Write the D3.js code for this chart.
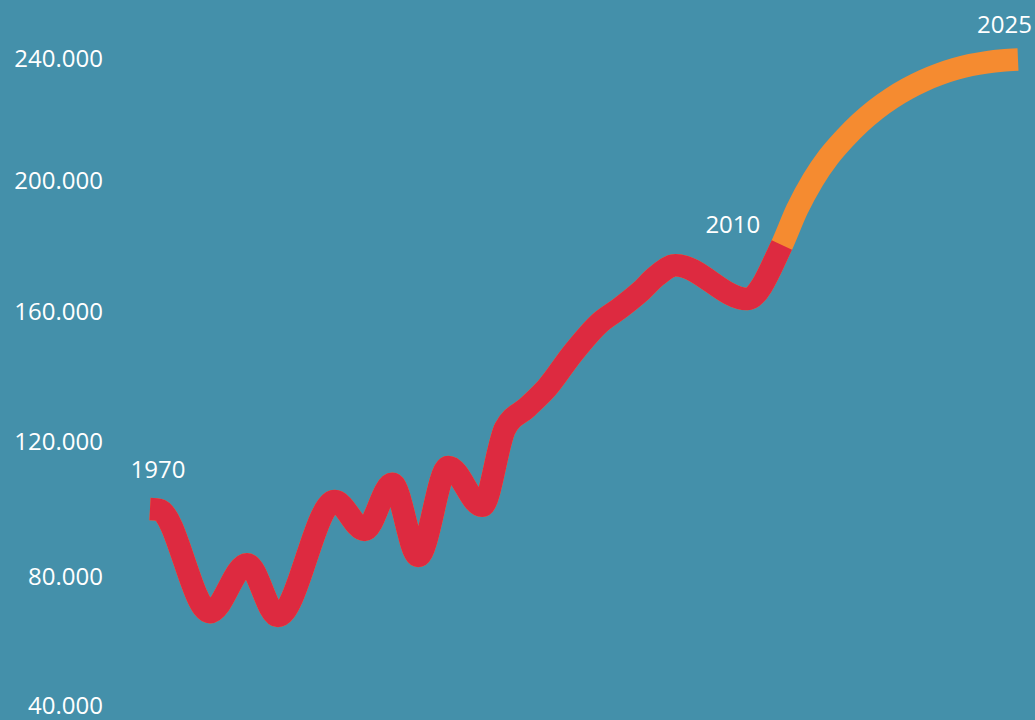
<!DOCTYPE html>
<html>
<head>
<meta charset="utf-8">
<script src="https://cdn.jsdelivr.net/npm/d3@7"></script>
<style>
  html, body { margin: 0; padding: 0; background: #4490AA; }
  svg { display: block; }
  text { font-family: "Open Sans", sans-serif; fill: #ffffff; }
</style>
</head>
<body>
<svg id="chart" width="1035" height="720"></svg>
<script>
// ---- data ----
// historic series (red), read at the turning points of the curve
const historicYears  = [1970, 1970.6, 1973.8, 1976.15, 1978.1, 1981.7, 1983.6, 1985.35, 1987.0, 1988.9, 1991.05, 1992.5, 1993.9, 1995.15, 1996.8, 1998.5, 1999.8, 2001.05, 2002.1, 2003.3, 2007.85, 2010];
const historicValues = [100100, 99800, 69100, 83800, 67900, 102400, 93900, 107500, 86200, 112500, 101000, 124000, 130500, 136500, 147200, 156500, 161100, 166000, 170900, 174200, 163800, 180000];
// forecast series (orange)
const forecastYears  = [2010, 2011, 2012, 2013, 2014, 2015, 2016, 2017, 2018, 2019, 2020, 2021, 2022, 2023, 2024, 2025];
const forecastValues = [180000, 191300, 200300, 207900, 213900, 219100, 223500, 227200, 230300, 232900, 235000, 236700, 238000, 238900, 239500, 239800];
const tickValues = [40000, 80000, 120000, 160000, 200000, 240000];
const yearLabels = [1970, 2010, 2025];

// ---- layout ----
const svg = d3.select("#chart");
const x = d3.scaleLinear().domain([1970, 2025]).range([150, 1018]);
const y = d3.scaleLinear().domain(tickValues).range([706, 577, 441.5, 311.5, 181, 59]);

const de = d3.formatLocale({decimal: ",", thousands: ".", grouping: [3], currency: ["", " €"]});
const fmt = de.format(",");

const axis = d3.axisLeft(y).tickValues(tickValues).tickSize(0).tickPadding(3).tickFormat(fmt);
const gAxis = svg.append("g").attr("transform", "translate(106,0)").call(axis);
gAxis.select(".domain").remove();
gAxis.selectAll("text").style("font-family", '"Open Sans", sans-serif').style("font-size", "24px").attr("fill", "#ffffff");

const hist = historicYears.map((yr, i) => ({yr, v: historicValues[i]}));
const fore = forecastYears.map((yr, i) => ({yr, v: forecastValues[i]}));
const all = hist.concat(fore.slice(1));

const line = d3.line().x(d => x(d.yr)).y(d => y(d.v)).curve(d3.curveMonotoneX);

// full curve in orange, historic part overdrawn in red with a dash ending at 2010
svg.append("path").datum(all).attr("d", line)
  .attr("fill", "none").attr("stroke", "#F58B30").attr("stroke-width", 22.5).attr("stroke-linecap", "butt");
const red = svg.append("path").datum(all).attr("d", line)
  .attr("fill", "none").attr("stroke", "#DD2A40").attr("stroke-width", 22.5).attr("stroke-linecap", "butt");

const node = red.node();
const total = node.getTotalLength();
const xSplit = x(forecastYears[0]);
let lo = 0, hi = total;
for (let i = 0; i < 40; i++) {
  const mid = (lo + hi) / 2;
  if (node.getPointAtLength(mid).x < xSplit) lo = mid; else hi = mid;
}
red.attr("stroke-dasharray", `${lo} ${total}`);

// year labels
const valAt = yr => {
  const h = hist.find(d => d.yr === yr); if (h) return h.v;
  return fore.find(d => d.yr === yr).v;
};
const labelStyle = {
  1970: {dx: 8, dy: -31, anchor: "middle"},
  2010: {dx: -21, dy: -13, anchor: "end"},
  2025: {dx: 14, dy: -27, anchor: "end"}
};
svg.selectAll("text.year").data(yearLabels).enter().append("text")
  .attr("class", "year")
  .attr("x", d => x(d) + labelStyle[d].dx)
  .attr("y", d => y(valAt(d)) + labelStyle[d].dy)
  .attr("text-anchor", d => labelStyle[d].anchor)
  .style("font-size", "24px")
  .text(d => d);
</script>
</body>
</html>
